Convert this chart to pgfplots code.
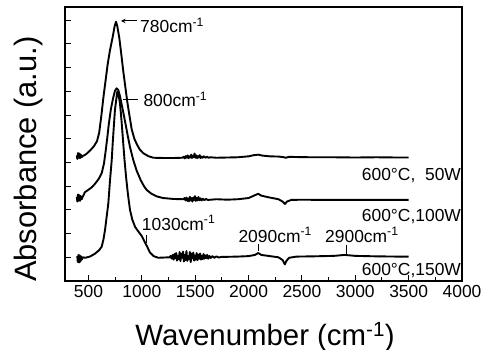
\documentclass[border=0pt]{standalone}
\usepackage{fontspec}
\setmainfont{Liberation Sans}
\usepackage{pgfplots}
\pgfplotsset{compat=1.18}
\usetikzlibrary{arrows.meta}

\begin{document}
\begin{tikzpicture}
\useasboundingbox (0,0) rectangle (494bp,350bp);
\begin{axis}[
  at={(65bp,69bp)}, anchor=south west,
  scale only axis, width=397bp, height=274bp,
  xmin=280, xmax=4000, ymin=0, ymax=11.56,
  xtick={500,1000,...,4000}, minor x tick num=1,
  ytick={1,...,11}, yticklabels={},
  tick align=inside, xtick pos=left, ytick pos=left,
  major tick length=5.5bp, minor tick length=3.5bp,
  axis line style={line width=1.3bp},
  every tick/.style={line width=1bp, black},
  tick label style={font=\fontsize{17.5}{20}\selectfont},
  /pgf/number format/assume math mode=true,
  /pgf/number format/1000 sep={},
  scaled x ticks=false,
  xticklabel style={inner sep=0pt, anchor=north, yshift=-4bp},
  xlabel={Wavenumber (cm\textsuperscript{-1})},
  ylabel={Absorbance (a.u.)},
  xlabel style={font=\fontsize{29.5}{34}\selectfont, at={(axis description cs:0.504,-0.2336)}, anchor=base, inner sep=0pt},
  ylabel style={font=\fontsize{31}{36}\selectfont, at={(axis description cs:-0.0713,0.445)}, anchor=base, inner sep=0pt},
  clip=false,
]
% 600C, 50W
\addplot[black, no markers, line width=1.9bp, line join=round] coordinates {
(390,5.30) (396,5.15) (402,5.40) (408,5.20) (414,5.38) (420,5.18) (428,5.33) (436,5.22) (446,5.28)
(460,5.30) (480,5.36) (514,5.50) (550,5.68) (580,5.90) (600,6.25) (620,6.95) (640,7.75) (660,8.45)
(680,9.15) (700,9.70) (727,10.30) (745,10.75) (758,10.94) (770,10.75) (789,10.25) (808,9.55)
(826,8.85) (845,8.20) (864,7.55) (885,6.95) (905,6.40) (930,6.00) (952,5.78) (980,5.55) (1014,5.39)
(1060,5.27) (1107,5.20) (1200,5.19) (1300,5.19)
(1380,5.20) (1392,5.24) (1402,5.17) (1412,5.27) (1420,5.20) (1430,5.30) (1438,5.18) (1446,5.26)
(1455,5.21) (1463,5.33) (1470,5.19) (1478,5.28) (1486,5.22) (1494,5.38) (1502,5.20) (1510,5.30)
(1518,5.18) (1526,5.27) (1534,5.21) (1542,5.31) (1550,5.19) (1560,5.25) (1570,5.20) (1582,5.26)
(1595,5.20) (1610,5.24) (1625,5.20) (1640,5.22)
(1700,5.20) (1800,5.21) (1900,5.22) (2000,5.26)
(2050,5.31) (2090,5.33) (2130,5.29) (2200,5.26) (2280,5.25) (2320,5.23) (2350,5.20) (2380,5.24)
(2450,5.23) (2600,5.22) (2800,5.22) (3000,5.21) (3200,5.22) (3400,5.21) (3500,5.21)
};
% 600C, 100W
\addplot[black, no markers, line width=1.9bp, line join=round] coordinates {
(390,3.55) (396,3.35) (402,3.65) (408,3.40) (414,3.62) (420,3.38) (428,3.58) (436,3.45) (446,3.55)
(467,3.75) (500,3.85) (530,3.95) (561,4.10) (595,4.30) (624,4.55) (645,4.95) (660,5.45) (675,6.00)
(690,6.60) (710,7.25) (730,7.70) (748,8.02) (764,8.13) (780,8.05) (795,7.80) (820,7.25) (842,6.75)
(865,6.20) (889,5.65) (920,5.10) (952,4.65) (990,4.25) (1020,4.00) (1046,3.84) (1090,3.68)
(1139,3.57) (1200,3.50) (1300,3.46)
(1390,3.45) (1400,3.50) (1410,3.40) (1418,3.52) (1426,3.38) (1434,3.48) (1442,3.36) (1450,3.55)
(1458,3.40) (1466,3.50) (1474,3.35) (1482,3.52) (1490,3.42) (1498,3.58) (1506,3.38) (1514,3.50)
(1522,3.40) (1530,3.54) (1540,3.41) (1550,3.49) (1560,3.40) (1572,3.47) (1585,3.41) (1600,3.46)
(1620,3.42)
(1700,3.45) (1800,3.43) (1900,3.45) (2000,3.50) (2060,3.62) (2090,3.68)
(2120,3.60) (2200,3.52) (2280,3.45) (2320,3.35) (2341,3.25) (2360,3.35) (2400,3.42) (2500,3.43)
(2700,3.42) (3000,3.42) (3300,3.42) (3500,3.42)
};
% 600C, 150W
\addplot[black, no markers, line width=1.9bp, line join=round] coordinates {
(395,1.05) (400,0.80) (406,1.10) (412,0.78) (418,1.08) (424,0.82) (430,1.04) (438,0.90) (446,1.00)
(470,0.98) (514,1.03) (560,1.15) (600,1.30) (624,1.45) (640,1.75) (655,2.15) (670,2.70) (686,3.28)
(702,4.26) (718,5.11) (727,5.81) (748,7.22) (770,7.99) (782,7.85) (795,7.50) (808,6.85) (821,6.09)
(836,5.20) (852,4.40) (870,3.65) (889,3.00) (910,2.60) (936,2.29) (965,2.10) (999,1.90) (1030,1.62)
(1050,1.45) (1076,1.20) (1110,1.05) (1154,0.98)
(1260,1.00) (1270,1.06) (1280,0.94) (1290,1.10) (1298,0.90) (1306,1.14) (1315,0.96) (1322,1.18)
(1330,0.86) (1338,1.06) (1346,0.92) (1354,1.22) (1362,0.84) (1370,1.15) (1378,0.98) (1386,1.24)
(1394,0.82) (1402,1.10) (1410,0.88) (1418,1.26) (1426,0.85) (1434,1.05) (1442,0.92) (1450,1.22)
(1458,0.80) (1466,1.16) (1474,0.95) (1482,1.20) (1490,0.86) (1498,1.08) (1506,0.90) (1514,1.18)
(1522,0.88) (1530,1.12) (1538,0.94) (1546,1.16) (1554,0.90) (1562,1.06) (1570,0.92) (1578,1.14)
(1586,0.94) (1594,1.08) (1602,0.96) (1612,1.10) (1622,0.94) (1632,1.06) (1645,0.97) (1660,1.05)
(1680,0.98) (1700,1.04) (1720,0.99) (1750,1.02)
(1800,1.02) (1900,1.03) (2000,1.05) (2060,1.10) (2090,1.18) (2120,1.10) (2200,1.05) (2280,1.00) (2320,0.88)
(2340,0.70) (2355,0.85) (2380,0.98) (2450,1.03) (2600,1.04) (2800,1.06) (2900,1.10) (3000,1.06)
(3200,1.04) (3400,1.03) (3500,1.03)
};
% annotations
\draw[line width=1bp, -{Stealth[length=4.5bp,width=4.5bp]}] (axis cs:952,10.97) -- (axis cs:805,10.97);
\node[anchor=base west, inner sep=0pt, font=\fontsize{17.5}{20}\selectfont] at (axis cs:983,10.47) {780cm\textsuperscript{-1}};
\draw[line width=1bp] (axis cs:826,7.64) -- (axis cs:967,7.64);
\node[anchor=base west, inner sep=0pt, font=\fontsize{17.5}{20}\selectfont] at (axis cs:1014,7.35) {800cm\textsuperscript{-1}};
\node[anchor=base west, inner sep=0pt, font=\fontsize{17.5}{20}\selectfont] at (axis cs:999,2.15) {1030cm\textsuperscript{-1}};
\draw[line width=0.9bp] (axis cs:1039,1.94) -- (axis cs:1039,1.59);
\node[anchor=base west, inner sep=0pt, font=\fontsize{17.5}{20}\selectfont] at (axis cs:1904,1.64) {2090cm\textsuperscript{-1}};
\draw[line width=0.9bp] (axis cs:2091,1.55) -- (axis cs:2091,1.25);
\node[anchor=base west, inner sep=0pt, font=\fontsize{17.5}{20}\selectfont] at (axis cs:2716,1.64) {2900cm\textsuperscript{-1}};
\draw[line width=0.9bp] (axis cs:2913,1.52) -- (axis cs:2913,1.12);
\node[anchor=base east, inner sep=0pt, font=\fontsize{17.5}{20}\selectfont] at (axis cs:3992,4.26) {600°C,\hphantom{1}50W};
\node[anchor=base east, inner sep=0pt, font=\fontsize{17.5}{20}\selectfont] at (axis cs:3992,2.50) {600°C,100W};
\node[anchor=base east, inner sep=0pt, font=\fontsize{17.5}{20}\selectfont] at (axis cs:3992,0.25) {600°C,150W};
\end{axis}
\end{tikzpicture}
\end{document}
